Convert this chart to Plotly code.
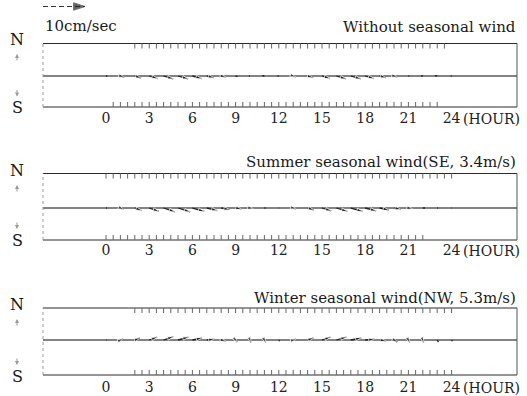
import plotly.graph_objects as go

# ---- data -------------------------------------------------------------
HOURS = list(range(25))

# hourly current vectors (east u, north v) in cm/s
u_calm = [0.3, 0.9, 1.5, 2.0, 2.3, 2.4, 2.2, 1.7, 1.1, 0.5, -0.2, -0.5, -0.3,
          0.6, 1.3, 1.9, 2.3, 2.4, 2.1, 1.5, 0.8, 0.2, -0.4, -0.5, -0.2]
v_calm = [0.0, -0.3, -0.5, -0.6, -0.7, -0.7, -0.6, -0.4, -0.2, -0.1, 0.0, 0.1, 0.0,
          -0.2, -0.4, -0.6, -0.7, -0.7, -0.6, -0.4, -0.2, 0.0, 0.1, 0.1, 0.0]

u_summer = [0.2, 0.8, 1.6, 2.3, 2.7, 2.9, 2.8, 2.5, 2.0, 1.4, 0.8, 0.3, 0.1,
            0.7, 1.5, 2.2, 2.6, 2.8, 2.6, 2.2, 1.6, 1.0, 0.5, 0.2, 0.1]
v_summer = [0.0, -0.3, -0.6, -0.8, -0.9, -0.9, -0.8, -0.6, -0.4, -0.2, -0.1, 0.0, 0.0,
            -0.2, -0.5, -0.7, -0.8, -0.8, -0.7, -0.5, -0.3, -0.1, 0.0, 0.0, 0.0]

u_winter = [0.1, 0.6, 1.2, 1.9, 2.3, 2.5, 2.3, 1.8, 1.1, 0.4, 0.2, 0.3, 0.2,
            0.7, 1.4, 2.0, 2.4, 2.5, 2.2, 1.5, 0.8, 0.3, 0.2, 0.3, 0.2]
v_winter = [0.0, 0.3, 0.5, 0.7, 0.8, 0.7, 0.5, 0.2, -0.2, -0.5, -0.6, -0.6, -0.3,
            0.2, 0.5, 0.7, 0.7, 0.5, 0.2, -0.2, -0.5, -0.6, -0.6, -0.5, -0.3]

TITLES = ["Without seasonal wind",
          "Summer seasonal wind(SE, 3.4m/s)",
          "Winter seasonal wind(NW, 5.3m/s)"]
TICK_HOURS = [0, 3, 6, 9, 12, 15, 18, 21, 24]
UNIT_LABEL = "(HOUR)"

# half-hourly record marks along the upper / lower frame lines (start, end hour)
TOP_MARKS = [(2.0, 23.5), (0.0, 24.0), (2.0, 24.0)]
BOTTOM_MARKS = [(0.5, 23.0), (0.0, 22.0), (2.0, 24.0)]

SCALE_SPEED = 10  # cm/s, reference arrow
SCALE_LABEL = "10cm/sec"

# ---- layout geometry --------------------------------------------------
W, H = 527, 396
PX_PER_HOUR = 14.4
ZERO_PX = 106.0
PX_PER_CMS = 4.2
K = PX_PER_CMS / PX_PER_HOUR          # hours of arrow length per cm/s

X_RANGE = [-ZERO_PX / PX_PER_HOUR, (W - ZERO_PX) / PX_PER_HOUR]
X_LEFT = (43 - ZERO_PX) / PX_PER_HOUR
X_RIGHT = (517 - ZERO_PX) / PX_PER_HOUR

# (top line, zero line, bottom line) pixel rows of each panel
PANELS = [(43.5, 76.0, 107.0), (173.5, 208.0, 240.0), (308.0, 340.0, 375.0)]
LABEL_ROWS = [118.5, 251.0, 387.5]
TITLE_ROWS = [27.5, 162.0, 297.5]
N_ROWS = [39.0, 170.0, 304.0]
S_ROWS = [107.5, 240.0, 376.0]

SERIES = [(u_calm, v_calm), (u_summer, v_summer), (u_winter, v_winter)]
LINE = "#2a2a2a"
FAINT = "#9a9a9a"
FONT = "DejaVu Serif"
TICK_SIZE = 14

fig = go.Figure()
layout = dict(width=W, height=H, margin=dict(l=0, r=0, t=0, b=0),
              paper_bgcolor="white", plot_bgcolor="white", showlegend=False)
annotations = []


def half_hours(a, b):
    out, t = [], a
    while t <= b + 1e-9:
        out.append(t)
        t += 0.5
    return out


for i, ((top, mid, bot), (u, v)) in enumerate(zip(PANELS, SERIES)):
    sfx = "" if i == 0 else str(i + 1)
    xa, ya = "x" + sfx, "y" + sfx
    y_top = (mid - top) / PX_PER_CMS
    y_bot = -(bot - mid) / PX_PER_CMS
    y_rng = [-(bot + 2 - mid) / PX_PER_CMS, (mid - (top - 2)) / PX_PER_CMS]
    layout["xaxis" + sfx] = dict(
        domain=[0, 1], range=X_RANGE, anchor="free",
        position=1 - (LABEL_ROWS[i] - 11) / H,
        showgrid=False, zeroline=False,
        showline=False, tickmode="array", tickvals=TICK_HOURS,
        ticktext=[str(t) for t in TICK_HOURS], ticks="", ticklen=0,
        tickfont=dict(family=FONT, size=TICK_SIZE, color="#222"),
        automargin=False, **({} if i == 0 else {"matches": "x"}))
    layout["yaxis" + sfx] = dict(
        domain=[1 - (bot + 2) / H, 1 - (top - 2) / H], range=y_rng, anchor=xa,
        visible=False, showgrid=False, zeroline=False)

    def seg(xs, ys, color=LINE, width=1.0, dash="solid"):
        fig.add_trace(go.Scatter(x=xs, y=ys, mode="lines", xaxis=xa, yaxis=ya,
                                 line=dict(color=color, width=width, dash=dash),
                                 hoverinfo="skip"))

    # frame and zero line
    seg([X_LEFT, X_RIGHT], [y_top, y_top])
    seg([X_LEFT, X_RIGHT], [y_bot, y_bot])
    seg([X_LEFT, X_RIGHT], [0, 0], color="#5a5a5a", width=1.6)
    seg([X_LEFT, X_LEFT], [y_bot, y_top], color=FAINT, width=1, dash="dot")
    seg([X_RIGHT, X_RIGHT], [y_bot, y_top], color="#555", width=1)

    # record marks hanging from the top line and standing on the bottom line
    mx, my = [], []
    for t in half_hours(*TOP_MARKS[i]):
        mx += [t, t, None]
        my += [y_top, y_top - 1.2, None]
    for t in half_hours(*BOTTOM_MARKS[i]):
        mx += [t, t, None]
        my += [y_bot, y_bot + 1.2, None]
    seg(mx, my, color="#666", width=1)

    # current vectors on the zero line
    vx, vy, vs = [], [], []
    for t, uu, vv in zip(HOURS, u, v):
        vx += [t, t + uu * K, None]
        vy += [0, vv, None]
        big = (uu * uu + vv * vv) ** 0.5 >= 0.6
        vs += [0, 6 if big else 0, 0]
    fig.add_trace(go.Scatter(
        x=vx, y=vy, mode="lines+markers", xaxis=xa, yaxis=ya,
        line=dict(color="#222", width=1.3, backoff=0),
        marker=dict(symbol="arrow", size=vs, angleref="previous", color="#222"),
        hoverinfo="skip"))

    # text
    annotations.append(dict(text=TITLES[i], xref="paper", yref="paper",
                            x=518 / W, y=1 - TITLE_ROWS[i] / H, xanchor="right",
                            yanchor="middle", showarrow=False,
                            font=dict(family=FONT, size=15, color="#1a1a1a")))
    annotations.append(dict(text=UNIT_LABEL, xref=xa, yref="paper", x=24,
                            xshift=9, y=1 - LABEL_ROWS[i] / H, xanchor="left",
                            yanchor="middle", showarrow=False,
                            font=dict(family=FONT, size=TICK_SIZE, color="#222")))
    for txt, row in (("N", N_ROWS[i]), ("S", S_ROWS[i])):
        annotations.append(dict(text=txt, xref="paper", yref="paper", x=17 / W,
                                y=1 - row / H, xanchor="center", yanchor="middle",
                                showarrow=False,
                                font=dict(family=FONT, size=16, color="#1a1a1a")))
    annotations.append(dict(xref="paper", yref="paper", x=17 / W,
                            y=1 - (N_ROWS[i] + 15) / H, ax=0, ay=8, text="",
                            showarrow=True, arrowhead=2, arrowsize=0.8,
                            arrowwidth=1, arrowcolor=FAINT))
    annotations.append(dict(xref="paper", yref="paper", x=17 / W,
                            y=1 - (S_ROWS[i] - 11) / H, ax=0, ay=-8, text="",
                            showarrow=True, arrowhead=2, arrowsize=0.8,
                            arrowwidth=1, arrowcolor=FAINT))

# reference arrow (10 cm/s) above the first panel
layout["xaxis4"] = dict(domain=[0, 1], range=X_RANGE, anchor="y4", visible=False,
                        matches="x")
layout["yaxis4"] = dict(domain=[1 - 12 / H, 1 - 1 / H], range=[-1, 1],
                        anchor="x4", visible=False)
fig.add_trace(go.Scatter(
    x=[X_LEFT, X_LEFT + SCALE_SPEED * K], y=[0, 0], mode="lines+markers",
    xaxis="x4", yaxis="y4",
    line=dict(color="#333", width=1.2, dash="5px,3px", backoff=0),
    marker=dict(symbol="arrow", size=[0, 12], angleref="previous", color="#222"),
    hoverinfo="skip"))
annotations.append(dict(text=SCALE_LABEL, xref="paper", yref="paper", x=43 / W,
                        y=1 - 26 / H, xanchor="left", yanchor="middle",
                        showarrow=False, font=dict(family=FONT, size=15, color="#1a1a1a")))

layout["annotations"] = annotations
fig.update_layout(**layout)
fig.write_html("out.html")
